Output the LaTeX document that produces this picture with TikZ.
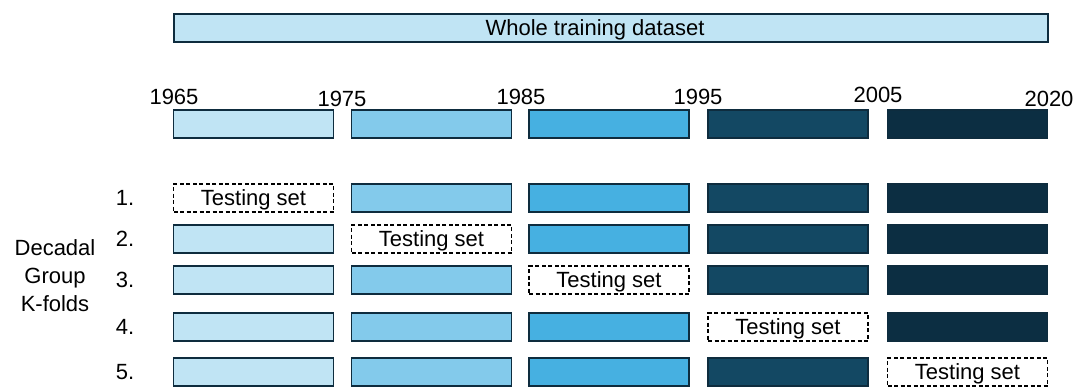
\documentclass[tikz,border=0pt]{standalone}
\usepackage{fontspec}
\setmainfont{Liberation Sans}
\usetikzlibrary{positioning}

% decade colours, light to dark
\definecolor{decA}{RGB}{192,228,244}
\definecolor{decB}{RGB}{131,202,235}
\definecolor{decC}{RGB}{70,176,225}
\definecolor{decD}{RGB}{19,72,99}
\definecolor{decE}{RGB}{12,46,66}
\definecolor{edge}{RGB}{14,44,62}

\tikzset{
  lbl/.style={font=\fontsize{22}{28}\selectfont, inner sep=0pt},
  bar/.style={draw=edge, line width=1.6pt, minimum width=160pt, minimum height=28pt, inner sep=0pt},
  testbox/.style={bar, draw=black, dash pattern=on 4pt off 2.5pt, fill=white,
    font=\fontsize{22}{28}\selectfont, text depth=0pt}
}

\begin{document}
\begin{tikzpicture}[x=1pt,y=-1pt]
  \useasboundingbox (0,0) rectangle (1074,386);

  % whole dataset
  \node[bar, fill=decA, minimum width=874pt] (whole) at (611,28) {};
  \node[lbl, text depth=0pt] (wholetxt) at (595,28) {Whole training dataset};

  % decades
  \node[bar, fill=decA] (d1) at (253.5,124) {};
  \node[bar, fill=decB] (d2) at (431.5,124) {};
  \node[bar, fill=decC] (d3) at (609,124) {};
  \node[bar, fill=decD] (d4) at (788,124) {};
  \node[bar, fill=decE] (d5) at (967.5,124) {};

  % year marks
  \node[lbl] (y1965) at (174,97) {1965};
  \node[lbl] (y1975) at (342,99) {1975};
  \node[lbl] (y1985) at (521,97) {1985};
  \node[lbl] (y1995) at (698,97) {1995};
  \node[lbl] (y2005) at (878,95) {2005};
  \node[lbl] (y2020) at (1049,99) {2020};

  % folds: one decade held out per row
  \foreach \r/\y in {1/198,2/239,3/280,4/327,5/372} {
    \node[lbl] (k\r) at (125,\y) {\r.};
    \foreach \c/\x/\col in {1/253.5/decA,2/431.5/decB,3/609/decC,4/788/decD,5/967.5/decE} {
      \ifnum\c=\r
        \node[testbox] (f\r-\c) at (\x,\y) {Testing set};
      \else
        \node[bar, fill=\col] (f\r-\c) at (\x,\y) {};
      \fi
    }
  }

  \node[lbl, align=center] (kfold) at (55,276) {Decadal\\Group\\K-folds};
\end{tikzpicture}
\end{document}
